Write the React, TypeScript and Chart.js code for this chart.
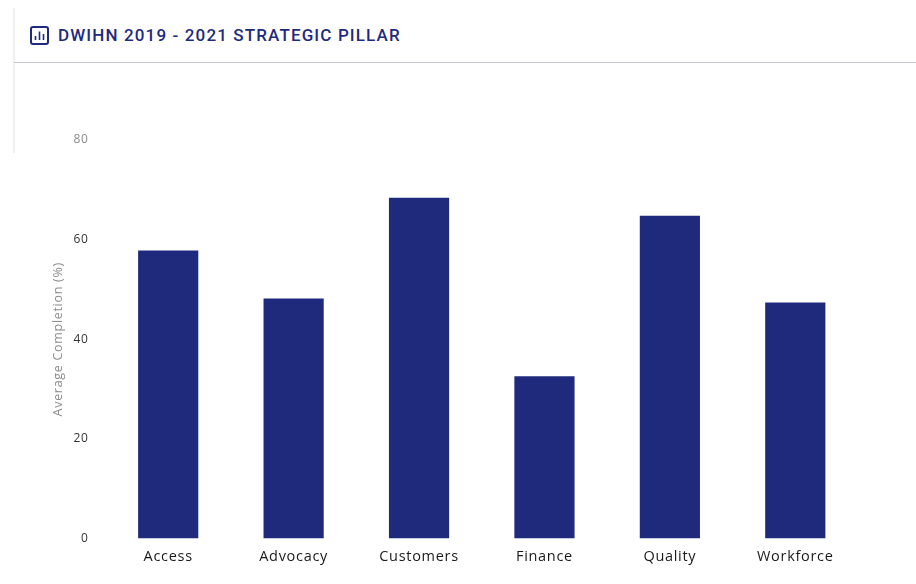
import React, { useEffect, useRef } from "react";
import { Chart, registerables } from "chart.js";

Chart.register(...registerables);

const pillars = ["Access", "Advocacy", "Customers", "Finance", "Quality", "Workforce"];
const averageCompletion = [57.8, 48.2, 68.4, 32.6, 64.8, 47.4];
const yTicks = [0, 20, 40, 60, 80];
const heading = "DWIHN 2019 - 2021 STRATEGIC PILLAR";
const yAxisTitle = "Average Completion (%)";
const navy = "#1F2A7C";
const headingFont = "Roboto, 'Open Sans', sans-serif";
const axisFont = "'Open Sans', Roboto, sans-serif";

// Canvas text is set slightly wider than the font's default tracking.
const textTracking = {
  id: "textTracking",
  beforeDraw(chart: Chart) {
    (chart.ctx as any).letterSpacing = "0.7px";
  },
};

export default function App() {
  const canvasRef = useRef<HTMLCanvasElement | null>(null);

  useEffect(() => {
    const chart = new Chart(canvasRef.current!, {
      type: "bar",
      plugins: [textTracking],
      data: {
        labels: pillars,
        datasets: [
          {
            data: averageCompletion,
            backgroundColor: navy,
            barPercentage: 0.96,
            categoryPercentage: 0.5,
          },
        ],
      },
      options: {
        animation: false,
        responsive: false,
        layout: { padding: { top: 65, right: 58, left: 50.5, bottom: 0 } },
        plugins: { legend: { display: false }, tooltip: { enabled: false } },
        scales: {
          x: {
            grid: { display: false },
            border: { display: false },
            ticks: {
              color: "#1a1a1a",
              padding: 2,
              font: { family: axisFont, size: 14.5 },
              maxRotation: 0,
            },
          },
          y: {
            min: 0,
            max: 80,
            afterBuildTicks: (axis) => {
              axis.ticks = yTicks.map((value) => ({ value }));
            },
            afterFit: (axis) => {
              axis.width = 55;
            },
            grid: { display: false },
            border: { display: false },
            ticks: {
              color: (ctx) => (ctx.tick.value === 80 ? "#8a8a8a" : "#333333"),
              padding: 9,
              font: { family: axisFont, size: 12 },
            },
            title: {
              display: true,
              text: yAxisTitle,
              color: "#8c8c8c",
              font: { family: axisFont, size: 12.5 },
              padding: { top: 0, bottom: 0 },
            },
          },
        },
      },
    });
    return () => chart.destroy();
  }, []);

  return (
    <div style={{ position: "fixed", left: 0, top: 0, width: 916, height: 584, background: "#ffffff", overflow: "hidden" }}>
      <div style={{ position: "absolute", left: 13, top: 8, width: 2, height: 145, background: "#f0f0f0" }} />
      <div style={{ position: "absolute", left: 14, top: 62, width: 902, height: 1, background: "#c6c6dc" }} />
      <svg style={{ position: "absolute", left: 30, top: 26 }} width="19" height="19" viewBox="0 0 19 19">
        <rect x="1" y="1" width="17" height="17" rx="2" fill="none" stroke={navy} strokeWidth="2" />
        <path d="M5.5 14V10M9.5 14V5.5M13.5 14V8" stroke={navy} strokeWidth="1.6" fill="none" />
      </svg>
      <div
        style={{
          position: "absolute",
          left: 58,
          top: 25,
          color: navy,
          fontFamily: headingFont,
          fontWeight: 500,
          fontSize: 17,
          letterSpacing: 1.13,
          lineHeight: "21px",
          whiteSpace: "nowrap",
        }}
      >
        {heading}
      </div>
      <canvas ref={canvasRef} width={916} height={493} style={{ position: "absolute", left: 0, top: 75, display: "block" }} />
    </div>
  );
}
